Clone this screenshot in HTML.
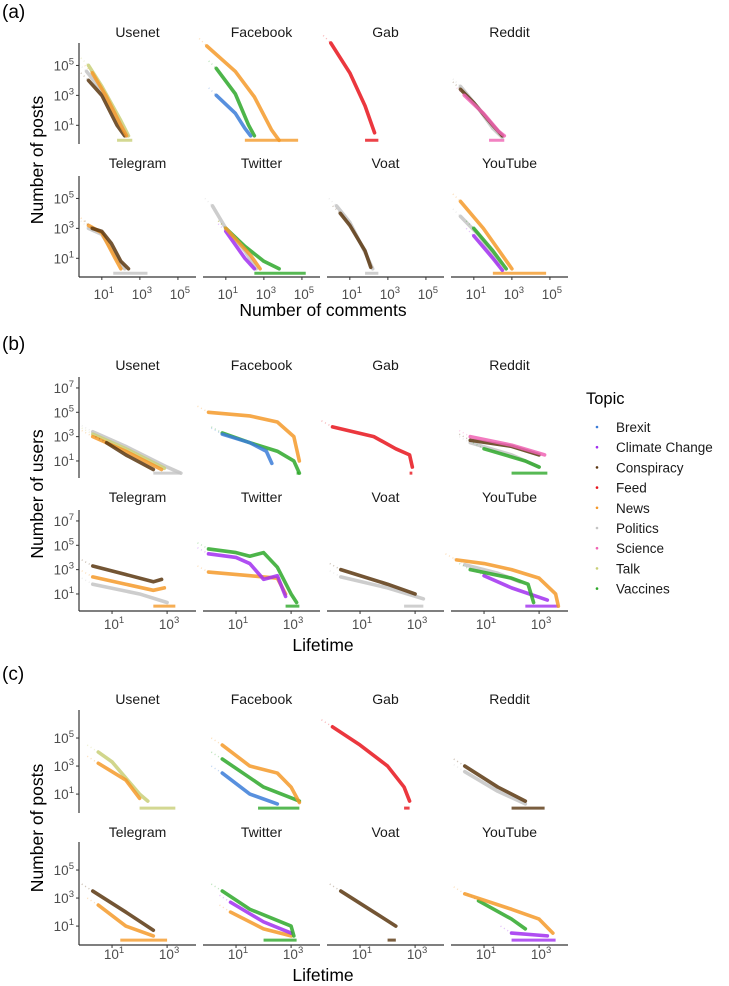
<!DOCTYPE html>
<html><head><meta charset="utf-8"><style>
body{margin:0;background:#fff;}
svg{display:block;font-family:"Liberation Sans","DejaVu Sans",sans-serif;}
</style></head><body>
<svg id="chart" width="729" height="986" viewBox="0 0 729 986" xmlns="http://www.w3.org/2000/svg"></svg>
<script>
// ---------- data (log10 x, log10 y) ----------
const platforms = ["Usenet","Facebook","Gab","Reddit","Telegram","Twitter","Voat","YouTube"];
const topics = ["Brexit","Climate Change","Conspiracy","Feed","News","Politics","Science","Talk","Vaccines"];
const topicColors = ["#3b7dd8","#a12ff0","#5a3710","#e8141c","#f59a2a","#c4c4c4","#f064b4","#c9cf78","#2ea82a"];

// Section (a): number of posts vs number of comments
const seriesA = {
 Usenet:[["Talk",[[0.3,5],[1,3.6],[2,1.3],[2.4,0.3]]],["Politics",[[0.2,4.6],[1,3.3],[2,1],[2.3,0.3]]],["Conspiracy",[[0.3,4],[1,3],[1.8,1],[2.2,0.3]]],["News",[[0.5,4.5],[1.2,3],[2,1],[2.3,0.3]]]],
 Facebook:[["News",[[0,6.3],[1.5,4.6],[2.5,2.9],[3.4,0.7],[3.8,0]]],["Vaccines",[[0.5,4.8],[1.5,3.1],[2.2,1],[2.5,0.3]]],["Brexit",[[0.5,3],[1.5,1.8],[2,0.8],[2.3,0.3]]]],
 Gab:[["Feed",[[0,6.5],[1,4.5],[1.8,2.3],[2.3,0.5]]]],
 Reddit:[["Politics",[[0.3,3.6],[1.2,2.2],[2,0.8],[2.5,0.2]]],["Conspiracy",[[0.3,3.4],[1,2.5],[2,1],[2.5,0.3]]],["Science",[[0.5,3],[1.5,1.8],[2.3,0.6],[2.6,0.3]]]],
 Telegram:[["Politics",[[0.3,3],[1,2.6],[1.8,1],[2.2,0.3]]],["News",[[0.3,3.2],[1,2.7],[1.7,1],[2,0.3]]],["Conspiracy",[[0.5,3],[1,2.8],[1.5,2],[2,0.8],[2.4,0.3]]]],
 Twitter:[["Politics",[[0.3,4.5],[1,3],[2,1.5],[2.6,0.3]]],["Vaccines",[[1,3],[2,1.8],[3,0.8],[3.8,0.3]]],["Climate Change",[[1,2.8],[2,1],[2.5,0.3]]],["News",[[1,3],[2.3,1.2],[2.8,0.3]]]],
 Voat:[["Politics",[[0.3,4.5],[1,3.4],[1.8,1.4],[2.2,0.3]]],["Conspiracy",[[0.5,4],[1,3.2],[1.8,1.5],[2.1,0.4]]]],
 YouTube:[["News",[[0.3,4.8],[1.5,3],[2.5,1.2],[3,0.3]]],["Politics",[[0.3,3.8],[1.3,2.5],[2.3,0.6]]],["Vaccines",[[1,3],[2,1.5],[2.7,0.3]]],["Climate Change",[[1,2.5],[2,1],[2.5,0.2]]]]
};
const baseA = {Usenet:[1.8,2.6,"Talk"],Facebook:[2,4.8,"News"],Gab:[1.8,2.5,"Feed"],Reddit:[1.8,2.6,"Science"],Telegram:[1.6,3.4,"Politics"],Twitter:[2.5,5.2,"Vaccines"],Voat:[1.8,2.5,"Politics"],YouTube:[2,4.8,"News"]};

// Section (b): number of users vs lifetime
const seriesB = {
 Usenet:[["Politics",[[0.3,3.4],[1.5,2.2],[3,0.5],[3.5,0]]],["Talk",[[0.3,3.2],[1.5,2],[2.9,0.4]]],["News",[[0.3,3],[1.5,1.8],[2.8,0.3]]],["Conspiracy",[[0.8,2.5],[1.5,1.5],[2.5,0.3]]]],
 Facebook:[["News",[[0,5],[1.5,4.7],[2.5,4.2],[3.1,3],[3.3,1]]],["Vaccines",[[0.5,3.3],[1.5,2.5],[2.5,1.8],[3.1,1],[3.3,0]]],["Brexit",[[0.5,3.2],[1.5,2.5],[2.1,1.8],[2.3,0.8]]]],
 Gab:[["Feed",[[0,3.8],[1.5,3],[2.3,2],[2.8,1.5],[2.9,0.5]]]],
 Reddit:[["Politics",[[0.5,2.5],[2,1.5],[3,0.5]]],["Vaccines",[[1,2],[2.5,1],[3,0.5]]],["Conspiracy",[[0.5,2.7],[2,2.2],[3,1.5]]],["Science",[[0.5,3],[2,2.3],[3.2,1.5]]]],
 Telegram:[["Politics",[[0.3,1.8],[2,1],[3,0.3]]],["News",[[0.3,2.4],[1.5,1.8],[2.5,1.3],[2.9,1.5]]],["Conspiracy",[[0.3,3.3],[1.5,2.6],[2.5,2],[2.8,2.2]]]],
 Twitter:[["News",[[0,2.8],[1.5,2.5],[2.5,2.3],[2.8,1]]],["Climate Change",[[0,4.3],[1,4],[1.5,3.5],[2,2.2],[2.5,2.5],[2.8,0.8]]],["Vaccines",[[0,4.7],[1,4.4],[1.5,4.1],[2,4.4],[2.5,3.2],[3,1],[3.2,0.3]]]],
 Voat:[["Politics",[[0.3,2.4],[2,1.5],[3.3,0.6]]],["Conspiracy",[[0.3,3],[2,1.8],[3,1]]]],
 YouTube:[["Politics",[[0.3,3.4],[1.5,2.7],[2.3,2]]],["Climate Change",[[1,2.5],[2,1.5],[3.3,0.5]]],["Vaccines",[[0.5,3],[2,2.3],[2.6,1.8],[2.8,0.3]]],["News",[[0,3.8],[1,3.5],[2,3],[3,2.3],[3.6,1],[3.7,0]]]]
};
const baseB = {Usenet:[2.5,3.5,"Politics"],Facebook:[3.2,3.3,"Vaccines"],Gab:[2.8,2.9,"Feed"],Reddit:[2,3.3,"Vaccines"],Telegram:[2.5,3.3,"News"],Twitter:[2.8,3.3,"Vaccines"],Voat:[2.6,3.3,"Politics"],YouTube:[2.5,3.7,"Climate Change"]};

// Section (c): number of posts vs lifetime
const seriesC = {
 Usenet:[["Talk",[[0.5,4],[1,3.3],[2,1],[2.3,0.5]]],["News",[[0.5,3.2],[1.5,2],[2,0.7]]]],
 Facebook:[["Brexit",[[0.5,2.5],[1.5,1],[2.5,0.3]]],["Vaccines",[[0.5,3.5],[2,1.5],[3.3,0.5]]],["News",[[0.5,4.5],[1.5,3],[2.5,2.5],[3,1.5],[3.3,0.4]]]],
 Gab:[["Feed",[[0,5.8],[1,4.5],[2,3],[2.6,1.5],[2.8,0.5]]]],
 Reddit:[["Politics",[[0.3,2.6],[1.5,1.2],[2.5,0.3]]],["Conspiracy",[[0.3,3],[1.5,1.5],[2.5,0.5]]]],
 Telegram:[["News",[[0.5,2.5],[1.5,1],[2.5,0.3]]],["Conspiracy",[[0.3,3.5],[1.5,2],[2.5,0.7]]]],
 Twitter:[["News",[[0.8,2],[2,0.8],[3,0.3]]],["Climate Change",[[0.8,2.7],[2,1.3],[3,0.5]]],["Vaccines",[[0.5,3.5],[1.5,2.2],[3,1],[3.1,0.3]]]],
 Voat:[["Conspiracy",[[0.3,3.5],[1.5,2],[2.3,1]]]],
 YouTube:[["Climate Change",[[2,0.5],[3.3,0.3]]],["Vaccines",[[0.8,2.8],[2,1.5],[2.5,0.8]]],["News",[[0.3,3.3],[2,2.2],[3,1.5],[3.5,0.5]]]]
};
const baseC = {Usenet:[2,3.3,"Talk"],Facebook:[1.8,3.3,"Vaccines"],Gab:[2.6,2.8,"Feed"],Reddit:[2,3.2,"Conspiracy"],Telegram:[1.3,3,"News"],Twitter:[2,3.2,"Vaccines"],Voat:[2,2.3,"Conspiracy"],YouTube:[2,3.6,"Climate Change"]};

const yTicksA=[1,3,5], xTicksA=[1,3,5];
const yTicksB=[1,3,5,7], xTicksB=[1,3];
const yTicksC=[1,3,5], xTicksC=[1,3];

// ---------- layout ----------
const NS="http://www.w3.org/2000/svg";
const svg=document.getElementById('chart');
function mk(tag,attrs,parent){const e=document.createElementNS(NS,tag);for(const k in attrs)e.setAttribute(k,attrs[k]);(parent||svg).appendChild(e);return e;}
const colL=[79,203,327,451], PW=117;
const sections=[
 {id:"a",label:"(a)",ly:18,series:seriesA,base:baseA,xr:[-0.2,5.95],yr:[-0.25,6.5],rows:[[43,144],[176,277]],strip:[32,163],yt:yTicksA,xt:xTicksA,xlabY:293,xtitle:"Number of comments",xtitleY:316,ytitle:"Number of posts",ytitleY:160},
 {id:"b",label:"(b)",ly:350,series:seriesB,base:baseB,xr:[-0.2,4.05],yr:[-0.4,7.9],rows:[[377,478],[510,611]],strip:[365,497],yt:yTicksB,xt:xTicksB,xlabY:623,xtitle:"Lifetime",xtitleY:651,ytitle:"Number of users",ytitleY:494},
 {id:"c",label:"(c)",ly:680,series:seriesC,base:baseC,xr:[-0.2,4.05],yr:[-0.35,7.0],rows:[[710,813],[842,945]],strip:[699,832],yt:yTicksC,xt:xTicksC,xlabY:953,xtitle:"Lifetime",xtitleY:981,ytitle:"Number of posts",ytitleY:828}
];
function col(t){return topicColors[topics.indexOf(t)];}
sections.forEach(S=>{
 const g=mk('g',{});
 
 
 const pl=mk('text',{x:2,y:S.ly,'font-size':19,fill:'#000'},g);pl.textContent=S.label;
 
 
 platforms.forEach((p,i)=>{
  const r=Math.floor(i/4),c=i%4;
  const x0=colL[c],x1=x0+PW,[y0,y1]=S.rows[r];
  const sx=v=>x0+(v-S.xr[0])/(S.xr[1]-S.xr[0])*PW;
  const sy=v=>y1-(v-S.yr[0])/(S.yr[1]-S.yr[0])*(y1-y0);
  const pg=mk('g',{},g);
  
  
  const st=mk('text',{x:x0+PW/2,y:S.strip[r]+5,'font-size':14,'text-anchor':'middle',fill:'#1a1a1a'},pg);st.textContent=p;
  
  
  const b=S.base[p];
  const bl=mk('line',{x1:sx(b[0]),x2:sx(b[1]),y1:sy(0),y2:sy(0),stroke:col(b[2]),'stroke-width':3,opacity:0.8},pg);
  
  
  S.series[p].forEach(([t,pts])=>{
   const h=mk('line',{x1:sx(pts[0][0]-0.4),y1:sy(pts[0][1]+0.5),x2:sx(pts[0][0]),y2:sy(pts[0][1]),stroke:col(t),'stroke-width':1.5,opacity:0.3,'stroke-dasharray':'1 3'},pg);
   
   
   const pe=mk('polyline',{points:pts.map(q=>sx(q[0])+','+sy(q[1])).join(' '),fill:'none',stroke:col(t),'stroke-width':3.6,'stroke-linejoin':'round','stroke-linecap':'round',opacity:0.85},pg);
   
   
  });
  if(c===0){
   const ax=mk('line',{x1:x0,x2:x0,y1:y0,y2:y1,stroke:'#333','stroke-width':1.2},pg);
   
   
   S.yt.forEach(v=>{
    mk('line',{x1:x0-3,x2:x0,y1:sy(v),y2:sy(v),stroke:'#333'},pg);
    const tt=mk('text',{x:x0-5,y:sy(v)+5,'font-size':13.5,'text-anchor':'end',fill:'#4d4d4d'},pg);
    tt.innerHTML='10<tspan dy="-6" font-size="9.5">'+v+'</tspan>';
    
    
   });
  }
  if(r===1){
   const ax=mk('line',{x1:x0,x2:x1,y1:y1,y2:y1,stroke:'#333','stroke-width':1.2},pg);
   
   
   S.xt.forEach(v=>{
    mk('line',{x1:sx(v),x2:sx(v),y1:y1,y2:y1+3,stroke:'#333'},pg);
    const tt=mk('text',{x:sx(v)+2,y:S.xlabY+6,'font-size':13.5,'text-anchor':'middle',fill:'#4d4d4d'},pg);
    tt.innerHTML='10<tspan dy="-6" font-size="9.5">'+v+'</tspan>';
    
    
   });
  }
 });
 const xt=mk('text',{x:323,y:S.xtitleY,'font-size':17.5,'text-anchor':'middle',fill:'#000'},g);xt.textContent=S.xtitle;
 
 
 const yt=mk('text',{x:0,y:0,'font-size':17.5,'text-anchor':'middle',fill:'#000',transform:'translate(43,'+S.ytitleY+') rotate(-90)'},g);yt.textContent=S.ytitle;
 
 
});
// legend
const lg=mk('g',{});


const lt=mk('text',{x:586,y:404,'font-size':16.5,fill:'#000'},lg);lt.textContent='Topic';


topics.forEach((t,i)=>{
 const y=427+i*20.2;
 const d=mk('circle',{cx:597,cy:y,r:1.3,fill:topicColors[i]},lg);
 
 
 const tx=mk('text',{x:616,y:y+5,'font-size':13.5,fill:'#1a1a1a'},lg);tx.textContent=t;
 
 
});
</script>
</body></html>
